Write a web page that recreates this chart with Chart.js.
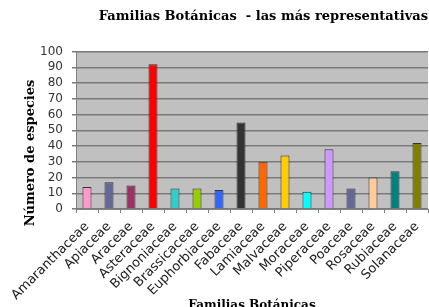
<!DOCTYPE html>
<html>
<head>
<meta charset="utf-8">
<script src="https://cdn.jsdelivr.net/npm/chart.js@4/dist/chart.umd.min.js"></script>
<style>
  html, body { margin: 0; padding: 0; background: #fff; }
  #wrap { width: 429px; height: 307px; }
</style>
</head>
<body>
<div id="wrap"><canvas id="bar-chart" width="429" height="307"></canvas></div>
<script>
var familias = ["Amaranthaceae", "Apiaceae", "Araceae", "Asteraceae", "Bignoniaceae",
    "Brassicaceae", "Euphorbiaceae", "Fabaceae", "Lamiaceae", "Malvaceae",
    "Moraceae", "Piperaceae", "Poaceae", "Rosaceae", "Rubiaceae", "Solanaceae"];
var especies = [14, 17, 15, 92, 13, 13, 12, 55, 30, 34, 11, 38, 13, 20, 24, 42];
var colores = ["#ff99cc", "#666699", "#993366", "#ff0000", "#33cccc", "#99cc00",
    "#3366ff", "#333333", "#ff6600", "#ffcc00", "#00ffff", "#cc99ff",
    "#666699", "#ffcc99", "#008080", "#808000"];
var yTicks = [0, 10, 20, 30, 40, 50, 60, 70, 80, 90, 100];

var serif = "'DejaVu Serif', serif";
var sans = "'DejaVu Sans', sans-serif";

// gray plot background + rotated y title
var fondo = {
    id: 'fondo',
    beforeDraw: function(chart) {
        var a = chart.chartArea, ctx = chart.ctx;
        ctx.save();
        ctx.fillStyle = '#c0c0c0';
        ctx.fillRect(a.left, a.top, a.right - a.left, a.bottom - a.top);
        ctx.restore();
    },
    afterDraw: function(chart) {
        var ctx = chart.ctx;
        ctx.save();
        ctx.translate(31, 153);
        ctx.rotate(-Math.PI / 2);
        ctx.font = "bold 13px " + serif;
        ctx.fillStyle = '#000';
        ctx.textAlign = 'center';
        ctx.textBaseline = 'middle';
        ctx.fillText("Número de especies", 0, 0);
        ctx.restore();
    }
};

new Chart(document.getElementById("bar-chart"), {
    type: 'bar',
    data: {
        labels: familias,
        datasets: [{
            data: especies,
            backgroundColor: colores,
            borderColor: '#333333',
            borderWidth: 1,
            barPercentage: 0.41,
            categoryPercentage: 1
        }]
    },
    options: {
        responsive: false,
        animation: false,
        layout: { padding: { left: 0, right: 1, top: 0, bottom: 0 } },
        plugins: {
            legend: { display: false },
            tooltip: { enabled: false },
            title: {
                display: true,
                text: "Familias Botánicas  - las más representativas",
                align: 'end',
                color: '#000',
                font: { family: serif, size: 13, weight: 'bold' },
                padding: { top: 9, bottom: 27 }
            }
        },
        scales: {
            x: {
                grid: { display: true, drawOnChartArea: false, color: '#808080', tickLength: 4 },
                border: { color: '#808080', width: 1 },
                ticks: {
                    minRotation: 45, maxRotation: 45, autoSkip: false,
                    color: '#222', padding: 6,
                    font: { family: sans, size: 13 }
                },
                title: {
                    display: true,
                    text: "Familias Botánicas",
                    color: '#000',
                    font: { family: serif, size: 12, weight: 'bold' },
                    padding: { top: 0, bottom: -6 }
                },
                afterFit: function(s) { s.height = 98; s.paddingLeft = 0; s.paddingRight = 0; }
            },
            y: {
                min: 0, max: 100,
                afterBuildTicks: function(s) { s.ticks = yTicks.map(function(v) { return { value: v }; }); },
                grid: { color: '#7a7a7a', lineWidth: 1.5, tickLength: 4 },
                border: { color: '#808080', width: 1 },
                ticks: { autoSkip: false, color: '#333', padding: 9, font: { family: sans, size: 12 } },
                afterFit: function(s) { s.width = 76; }
            }
        }
    },
    plugins: [fondo]
});
</script>
</body>
</html>
